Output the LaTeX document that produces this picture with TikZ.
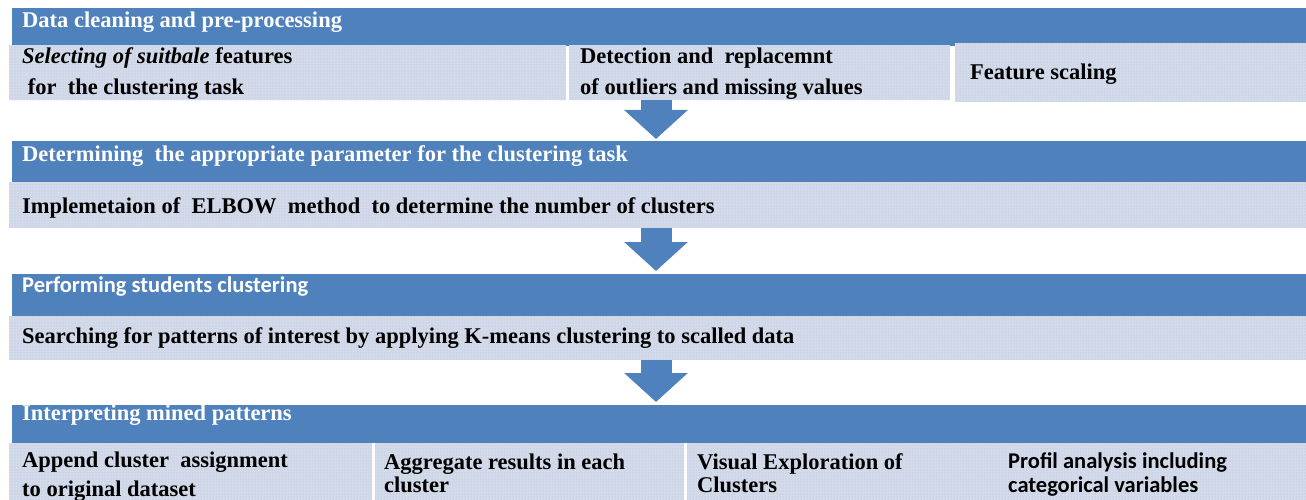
\documentclass[tikz,border=0pt]{standalone}
\usepackage{fontspec}
\setmainfont{Liberation Serif}
\newfontfamily\calfont{Carlito}
\usetikzlibrary{arrows.meta,patterns}
\definecolor{headblue}{HTML}{4F81BD}
\definecolor{boxblue}{HTML}{D3DBEA}
\definecolor{dotblue}{HTML}{B2C1DD}
\tikzset{
  head/.style={fill=headblue, inner sep=0pt, anchor=north west, minimum width=1294pt},
  lbox/.style={fill=boxblue, postaction={pattern=dots, pattern color=dotblue}, inner sep=0pt, anchor=north west},
  htext/.style={text=white, inner sep=0pt, anchor=base west, font=\fontsize{22.5}{26}\selectfont\bfseries},
  btext/.style={text=black, inner sep=0pt, anchor=base west, align=left, font=\fontsize{22.5}{31}\selectfont\bfseries},
  flow/.style={draw=headblue, line width=31pt, -{Triangle[width=62pt,length=29pt]}}
}
\begin{document}
\begin{tikzpicture}[x=1pt,y=-1pt]
\useasboundingbox (0,0) rectangle (1306,500);
% band 1
\node[head, minimum height=38pt] (h1) at (12,8) {};
\node[lbox, minimum width=557pt, minimum height=55pt] (b11) at (9,45) {};
\node[lbox, minimum width=381pt, minimum height=55pt] (b12) at (569,45) {};
\node[lbox, minimum width=351pt, minimum height=59pt] (b13) at (955,43) {};
\node[htext] (t1) at (22,28) {Data cleaning and pre-processing};
\node[btext] (s11) at (22,95) {\textit{Selecting of suitbale} features\\ \ for\ \ the clustering task};
\node[btext] (s12) at (580,95) {Detection and\ \ replacemnt\\of outliers and missing values};
\node[btext] (s13) at (970,80) {Feature scaling};
% band 2
\node[head, minimum height=41pt] (h2) at (12,141) {};
\node[lbox, minimum width=1297pt, minimum height=46pt] (b21) at (9,182) {};
\node[htext] (t2) at (22,161) {Determining\ \ the appropriate parameter for the clustering task};
\node[btext] (s21) at (22,213) {Implemetaion of\ \ ELBOW\ \ method\ \ to determine the number of clusters};
% band 3
\node[head, minimum height=42pt] (h3) at (12,274) {};
\node[lbox, minimum width=1297pt, minimum height=44pt] (b31) at (9,316) {};
\node[htext, font=\fontsize{22.5}{26}\selectfont\bfseries\calfont] (t3) at (22,292) {Performing students clustering};
\node[btext] (s31) at (22,343) {Searching for patterns of interest by applying K-means clustering to scalled data};
% band 4
\node[head, minimum height=38pt] (h4) at (12,405) {};
\node[lbox, minimum width=363pt, minimum height=57pt] (b41) at (9,443) {};
\node[lbox, minimum width=309pt, minimum height=57pt] (b42) at (375,443) {};
\node[lbox, minimum width=310pt, minimum height=57pt] (b43) at (687,443) {};
\node[lbox, minimum width=309pt, minimum height=57pt] (b44) at (997,443) {};
\node[htext] (t4) at (22,420) {Interpreting mined patterns};
\node[btext, font=\fontsize{22.5}{29}\selectfont\bfseries] (s41) at (22,496) {Append cluster\ \ assignment\\to original dataset};
\node[btext, font=\fontsize{22.5}{23}\selectfont\bfseries] (s42) at (384,492) {Aggregate results in each\\cluster};
\node[btext, font=\fontsize{22.5}{23}\selectfont\bfseries] (s43) at (697,492) {Visual Exploration of\\Clusters};
\node[btext, font=\fontsize{22.5}{24}\selectfont\bfseries\calfont] (s44) at (1008,492) {Profil analysis including\\categorical variables};
% arrows
\coordinate (a1) at (656,100);
\coordinate (e1) at (656,139);
\coordinate (a2) at (656,228);
\coordinate (e2) at (656,271);
\coordinate (a3) at (656,360);
\coordinate (e3) at (656,402);
\draw[flow] (a1) -- (e1);
\draw[flow] (a2) -- (e2);
\draw[flow] (a3) -- (e3);
\end{tikzpicture}
\end{document}
